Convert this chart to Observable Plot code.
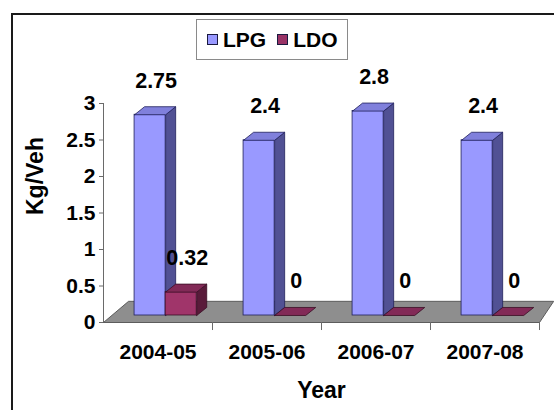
<!DOCTYPE html>
<html>
<head>
<meta charset="utf-8">
<script src="https://cdn.jsdelivr.net/npm/d3@7"></script>
<script src="https://cdn.jsdelivr.net/npm/@observablehq/plot@0.6"></script>
<style>
  html, body { margin: 0; padding: 0; background: #fff; overflow: hidden; }
  #wrap { position: relative; width: 554px; height: 410px; overflow: hidden; background: #fff;
          font-family: "Liberation Sans", Arial, sans-serif; font-weight: bold; }
  #chart { position: absolute; left: 0; top: 0; }
  #border { position: absolute; left: 11px; top: 13px; width: 600px; height: 460px;
            border: 2px solid #1a1a1a; box-sizing: border-box; pointer-events: none; }
  #legend { position: absolute; left: 196px; top: 19px; width: 152px; height: 41px;
            border: 1px solid #8a8a8a; box-sizing: border-box; background: #fff;
            display: flex; align-items: center; padding-left: 10px; font-size: 21px; color: #000; }
  #legend .sw { width: 11px; height: 11px; box-sizing: border-box; border: 1px solid #1a1a40; margin-right: 5px; }
  #legend .it { display: flex; align-items: center; margin-right: 11px; }
</style>
</head>
<body>
<div id="wrap">
  <div id="chart"></div>
  <div id="border"></div>
  <div id="legend"></div>
</div>
<script>
// ---- data ----
const years = ["2004-05", "2005-06", "2006-07", "2007-08"];
const series = ["LPG", "LDO"];
const lpg = [2.75, 2.4, 2.8, 2.4];
const ldo = [0.32, 0, 0, 0];
const yTicks = [0, 0.5, 1, 1.5, 2, 2.5, 3];

// ---- styles ----
const faces = {
  LPG: {front: "#9999ff", top: "#8080dc", side: "#515194", stroke: "#20205a", legend: "#9999ff"},
  LDO: {front: "#a0356a", top: "#822a57", side: "#591b3a", stroke: "#3a0e25", legend: "#993366"}
};
const floorFill = "#8e8e8e", floorStroke = "#5c5c5c";
const FONT = 21;

// ---- layout constants (data units of the scales) ----
const barStart = 0.285, barW = 0.285;   // within a category band
const base = 0.096;                      // bars stand a little behind the front edge
const depX = 0.092, depY = 0.11;         // 3-D depth of a bar
const floorDepth = 0.29, floorLeft = 0.23, floorRight = 0.13;

const values = {LPG: lpg, LDO: ldo};
const rows = [];
years.forEach((year, i) => {
  series.forEach((s, k) => {
    const x1 = i + barStart + k * barW, x2 = x1 + barW, v = values[s][i];
    rows.push({id: year + s, year, series: s, value: v, x1, x2});
  });
});

const sidePts = [], topPts = [];
rows.forEach(r => {
  const b = base, t = base + r.value;
  [[r.x2, b], [r.x2, t], [r.x2 + depX, t + depY], [r.x2 + depX, b + depY], [r.x2, b]]
    .forEach(([x, y]) => sidePts.push({id: r.id, series: r.series, x, y}));
  [[r.x1, t], [r.x2, t], [r.x2 + depX, t + depY], [r.x1 + depX, t + depY], [r.x1, t]]
    .forEach(([x, y]) => topPts.push({id: r.id, series: r.series, x, y}));
});

const n = years.length;
const floorPts = [[0, 0], [n, 0], [n + floorRight, floorDepth], [floorLeft, floorDepth], [0, 0]]
  .map(([x, y]) => ({x, y}));

// draw order: per category, LPG then LDO (front/top/side per bar)
const barMarks = [];
rows.forEach(r => {
  const f = faces[r.series];
  const side = sidePts.filter(p => p.id === r.id);
  const top = topPts.filter(p => p.id === r.id);
  if (r.value > 0) {
    barMarks.push(Plot.line(side, {x: "x", y: "y", fill: f.side, stroke: f.stroke, strokeWidth: 0.8, curve: "linear"}));
    barMarks.push(Plot.rect([r], {x1: "x1", x2: "x2", y1: () => base, y2: d => base + d.value,
      fill: f.front, stroke: f.stroke, strokeWidth: 0.8}));
  }
  barMarks.push(Plot.line(top, {x: "x", y: "y", fill: f.top, stroke: f.stroke, strokeWidth: 0.8, curve: "linear"}));
});

const plot = Plot.plot({
  width: 554,
  height: 410,
  marginLeft: 103,
  marginRight: 15,
  marginTop: 103,
  marginBottom: 88,
  style: {background: "transparent", fontFamily: "'Liberation Sans', Arial, sans-serif", fontWeight: "bold", color: "#000"},
  x: {domain: [0, n], axis: null},
  y: {domain: [0, 3], axis: null},
  marks: [
    Plot.line(floorPts, {x: "x", y: "y", fill: floorFill, stroke: floorStroke, strokeWidth: 1}),
    Plot.ruleX([0], {y1: 0, y2: 3, stroke: "#6a6a6a", strokeWidth: 1}),
    Plot.axisY(yTicks, {anchor: "left", tickSize: 4, tickPadding: 4, fontSize: FONT, fontWeight: "bold",
      stroke: "#6a6a6a", fill: "#000", tickFormat: d => String(d), label: null}),
    Plot.ruleX(d3.range(1, n + 1), {y1: 0, y2: -0.11, stroke: "#6a6a6a", strokeWidth: 1}),
    ...barMarks,
    Plot.text(rows, {x: d => (d.x1 + d.x2) / 2, y: d => base + d.value, text: d => String(d.value),
      dx: 6, dy: -34, fontSize: 21.5, fontWeight: "bold", fill: "#000"}),
    Plot.text(years, {x: (d, i) => i + 0.5, y: () => 0, text: d => d, dy: 30, fontSize: FONT, fontWeight: "bold", fill: "#000"}),
    Plot.text(["Year"], {frameAnchor: "bottom", text: d => d, dy: 75, fontSize: 23, fontWeight: "bold", fill: "#000"}),
    Plot.text(["Kg/Veh"], {frameAnchor: "left", text: d => d, dx: -68, dy: 2, rotate: -90, fontSize: 23, fontWeight: "bold", fill: "#000"})
  ]
});
document.getElementById("chart").appendChild(plot);

// legend
const lg = document.getElementById("legend");
series.forEach(s => {
  const it = document.createElement("div");
  it.className = "it";
  const sw = document.createElement("div");
  sw.className = "sw";
  sw.style.background = faces[s].legend;
  const tx = document.createElement("span");
  tx.textContent = s;
  it.appendChild(sw); it.appendChild(tx);
  lg.appendChild(it);
});
</script>
</body>
</html>
